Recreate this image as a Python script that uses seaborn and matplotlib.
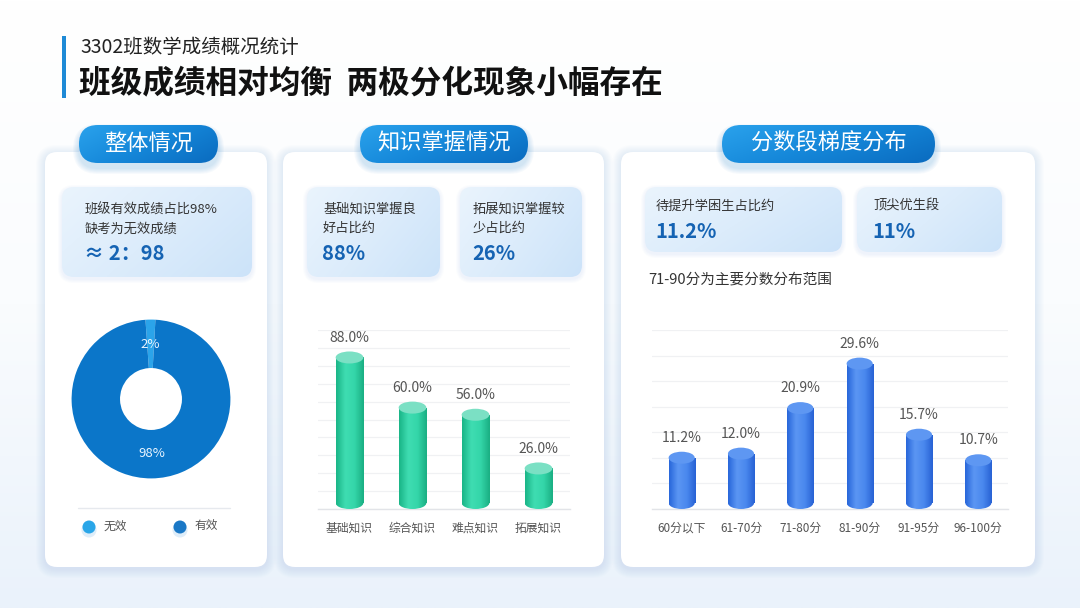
import numpy as np
import matplotlib
matplotlib.use('Agg')
import matplotlib.pyplot as plt
import seaborn as sns
import pandas as pd
from matplotlib.patches import FancyBboxPatch, Ellipse, Rectangle, Circle
from matplotlib.colors import LinearSegmentedColormap

# ---------------- data ----------------
donut_labels = ['无效', '有效']
donut_values = [2, 98]
knowledge_categories = ['基础知识', '综合知识', '难点知识', '拓展知识']
knowledge_values = [88.0, 60.0, 56.0, 26.0]
score_categories = ['60分以下', '61-70分', '71-80分', '81-90分', '91-95分', '96-100分']
score_values = [11.2, 12.0, 20.9, 29.6, 15.7, 10.7]

sns.set_theme(style='white')
plt.rcParams['font.family'] = ['Noto Sans CJK SC', 'DejaVu Sans']
plt.rcParams['axes.unicode_minus'] = False

W, H = 1080, 608
fig = plt.figure(figsize=(10.8, 6.08), dpi=100)
bg = fig.add_axes([0, 0, 1, 1])
bg.set_xlim(0, W)
bg.set_ylim(H, 0)
bg.axis('off')


def grad_box(ax, x0, y0, w, h, r, colors, zorder, mode='h', alpha=1.0):
    patch = FancyBboxPatch((x0, y0), w, h, boxstyle=f'round,pad=0,rounding_size={r}',
                           fc='none', ec='none', zorder=zorder)
    ax.add_patch(patch)
    cmap = LinearSegmentedColormap.from_list('g', colors)
    g = np.linspace(0, 1, 128)
    if mode == 'h':
        arr = np.tile(g[None, :], (2, 1))
    elif mode == 'v':
        arr = np.tile(g[:, None], (1, 2))
    else:
        arr = (g[None, :] * 0.65 + g[:, None] * 0.35)
    im = ax.imshow(arr, cmap=cmap, extent=(x0, x0 + w, y0 + h, y0), aspect='auto',
                   zorder=zorder, interpolation='bicubic', alpha=alpha)
    im.set_clip_path(patch)
    return patch


def soft_shadow(ax, x0, y0, w, h, r, color, n=8, a=0.025, dy=3, zorder=1):
    for i in range(n, 0, -1):
        ax.add_patch(FancyBboxPatch((x0 - i, y0 - i + dy), w + 2 * i, h + 2 * i,
                                    boxstyle=f'round,pad=0,rounding_size={r + i}',
                                    fc=color, ec='none', alpha=a, zorder=zorder))


# background
gb = np.linspace(0, 1, 256)[:, None]
bg.imshow(np.tile(gb, (1, 2)), cmap=LinearSegmentedColormap.from_list('bgc', ['#FFFFFF', '#FAFCFE', '#EAF2FB']),
          extent=(0, W, H, 0), aspect='auto', zorder=0)

# header
bg.add_patch(Rectangle((62, 36), 4, 62, fc='#1E8AD6', ec='none', zorder=2))
bg.text(80, 47, '3302班数学成绩概况统计', fontsize=14, color='#222222', va='center', ha='left', zorder=3)
bg.text(79, 83, '班级成绩相对均衡  两极分化现象小幅存在', fontsize=22.8, fontweight='bold',
        color='#111111', va='center', ha='left', zorder=3)

# cards
cards = [(45, 152, 222, 415), (283, 152, 321, 415), (621, 152, 414, 415)]
for (x0, y0, w, h) in cards:
    soft_shadow(bg, x0, y0, w, h, 12, '#8DB6E0', n=9, a=0.022, dy=2, zorder=1)
    bg.add_patch(FancyBboxPatch((x0, y0), w, h, boxstyle='round,pad=0,rounding_size=12',
                                fc='white', ec='none', zorder=2))

# pills
pills = [(79, 125, 139, 38, '整体情况'), (360, 125, 168, 38, '知识掌握情况'), (722, 125, 213, 38, '分数段梯度分布')]
for (x0, y0, w, h, t) in pills:
    soft_shadow(bg, x0, y0, w, h, h / 2, '#3C8FD8', n=6, a=0.04, dy=5, zorder=3)
    grad_box(bg, x0, y0, w, h, h / 2, ['#2AA2EC', '#1587D9', '#0A6BBF'], zorder=4, mode='d')
    bg.text(x0 + w / 2, y0 + h / 2 - 1, t, fontsize=16, color='white', ha='center', va='center', zorder=5)

# stat boxes
boxes = [(62, 187, 190, 90), (307, 187, 133, 90), (460, 187, 122, 90), (645, 187, 197, 65), (857, 187, 145, 65)]
for (x0, y0, w, h) in boxes:
    soft_shadow(bg, x0, y0, w, h, 12, '#8DB6E0', n=4, a=0.03, dy=2, zorder=3)
    grad_box(bg, x0, y0, w, h, 12, ['#EAF4FD', '#DCECFB', '#CCE3F9'], zorder=4, mode='d')

txt_kw = dict(fontsize=9.5, color='#333333', ha='left', va='center', zorder=6)
num_kw = dict(fontsize=14.5, color='#1563B3', fontweight='bold', ha='left', va='center', zorder=6)
bg.text(85, 210, '班级有效成绩占比98%', **txt_kw)
bg.text(85, 229, '缺考为无效成绩', **txt_kw)
bg.text(84, 253, '≈ 2：98', **num_kw)
bg.text(323, 209, '基础知识掌握良', **txt_kw)
bg.text(323, 228, '好占比约', **txt_kw)
bg.text(322, 253, '88%', **num_kw)
bg.text(473, 209, '拓展知识掌握较', **txt_kw)
bg.text(473, 228, '少占比约', **txt_kw)
bg.text(472, 253, '26%', **num_kw)
bg.text(656, 206, '待提升学困生占比约', **txt_kw)
bg.text(655, 231, '11.2%', **num_kw)
bg.text(873, 206, '顶尖优生段', **txt_kw)
bg.text(872, 231, '11%', **num_kw)
bg.text(648, 279, '71-90分为主要分数分布范围', fontsize=10.5, color='#333333', ha='left', va='center', zorder=6)

# legend for donut
bg.plot([78, 230], [508, 508], color='#E6E9EE', lw=1, zorder=6)
leg_colors = ['#2AA6E8', '#1A78C6']
leg_x = [89, 180]
for lx, lc, lt in zip(leg_x, leg_colors, donut_labels):
    bg.add_patch(Circle((lx, 530), 7.5, fc='#7FB8E8', ec='none', alpha=0.25, zorder=6))
    bg.add_patch(Circle((lx, 527), 6.5, fc=lc, ec='none', zorder=7))
    bg.text(lx + 15, 526, lt, fontsize=8.5, color='#555555', ha='left', va='center', zorder=7)

bg.set_xlim(0, W)
bg.set_ylim(H, 0)

# ---------------- donut ----------------
axd = fig.add_axes([70 / W, (H - 480) / H, 162 / W, 162 / H])
axd.pie(donut_values, colors=['#2BA4EA', '#0B76C9'], startangle=94,
        counterclock=False, wedgeprops=dict(width=0.61, edgecolor='none'),
        autopct=lambda p: f'{p:.0f}%', pctdistance=0.69,
        textprops=dict(color='#EAF5FF', fontsize=9.5))
axd.set_xlim(-1.02, 1.02)
axd.set_ylim(-1.02, 1.02)
axd.set_aspect('equal')
axd.patch.set_alpha(0)


# ---------------- bar charts ----------------
def style_bar_axes(ax, ymax, step):
    ax.set_ylim(0, ymax)
    ax.set_yticks(np.arange(0, ymax + 0.01, step))
    ax.set_yticklabels([])
    ax.tick_params(axis='y', length=0)
    ax.tick_params(axis='x', length=0, pad=9, labelsize=8.5, labelcolor='#555555')
    ax.yaxis.grid(True, color='#F0F1F3', lw=0.9)
    ax.xaxis.grid(False)
    ax.set_axisbelow(True)
    for s in ['left', 'right', 'top']:
        ax.spines[s].set_visible(False)
    ax.spines['bottom'].set_color('#E2E4E8')
    ax.spines['bottom'].set_linewidth(1)
    ax.set_xlabel('')
    ax.set_ylabel('')
    ax.patch.set_alpha(0)


def cylinders(ax, ymax, px_h, body, top_color, fmt='{:.1f}%'):
    eh = 12.0 * ymax / px_h
    xl = ax.get_xlim()
    cmap = LinearSegmentedColormap.from_list('b', body)
    bars = [p for p in ax.patches]
    for p in bars:
        x, w, h = p.get_x(), p.get_width(), p.get_height()
        cx = x + w / 2
        p.set_y(eh / 2)
        p.set_height(h - eh)
        p.set_edgecolor('none')
        p.set_zorder(2.5)
        im = ax.imshow(np.tile(np.linspace(0, 1, 128)[None, :], (2, 1)), cmap=cmap,
                       extent=(x, x + w, eh / 2, h - eh / 2), aspect='auto', zorder=3,
                       interpolation='bicubic')
        im.set_clip_path(p)
        be = Ellipse((cx, eh / 2), w, eh, fc='none', ec='none', zorder=2.9, clip_on=False)
        ax.add_patch(be)
        im2 = ax.imshow(np.tile(np.linspace(0, 1, 128)[None, :], (2, 1)), cmap=cmap,
                        extent=(x, x + w, 0, eh), aspect='auto', zorder=2.9, interpolation='bicubic')
        im2.set_clip_path(be)
        ax.add_patch(Ellipse((cx, h - eh / 2), w, eh, fc=top_color, ec='none', zorder=4, clip_on=False))
        ax.annotate(fmt.format(h), (cx, h), xytext=(0, 5), textcoords='offset points',
                    ha='center', va='bottom', fontsize=10, color='#555555', zorder=5,
                    annotation_clip=False)
    ax.set_xlim(xl)
    ax.set_ylim(0, ymax)


df_k = pd.DataFrame({'cat': knowledge_categories, 'val': knowledge_values})
ax1 = fig.add_axes([318 / W, (H - 509) / H, 252 / W, 179 / H])
sns.barplot(data=df_k, x='cat', y='val', ax=ax1, color='#2ED3A5', width=0.44,
            saturation=1, errorbar=None)
style_bar_axes(ax1, 100, 10)
cylinders(ax1, 100, 179, ['#19B486', '#3FDDB2', '#34D6A9', '#1AAE82'], '#7BE0C4')

df_s = pd.DataFrame({'cat': score_categories, 'val': score_values})
ax2 = fig.add_axes([652 / W, (H - 509) / H, 356 / W, 179 / H])
sns.barplot(data=df_s, x='cat', y='val', ax=ax2, color='#3F80EC', width=0.44,
            saturation=1, errorbar=None)
style_bar_axes(ax2, 35, 5)
cylinders(ax2, 35, 179, ['#2766DA', '#5B96F3', '#4A88EE', '#2761D4'], '#5E97F2')

fig.savefig('out.png', dpi=100)
